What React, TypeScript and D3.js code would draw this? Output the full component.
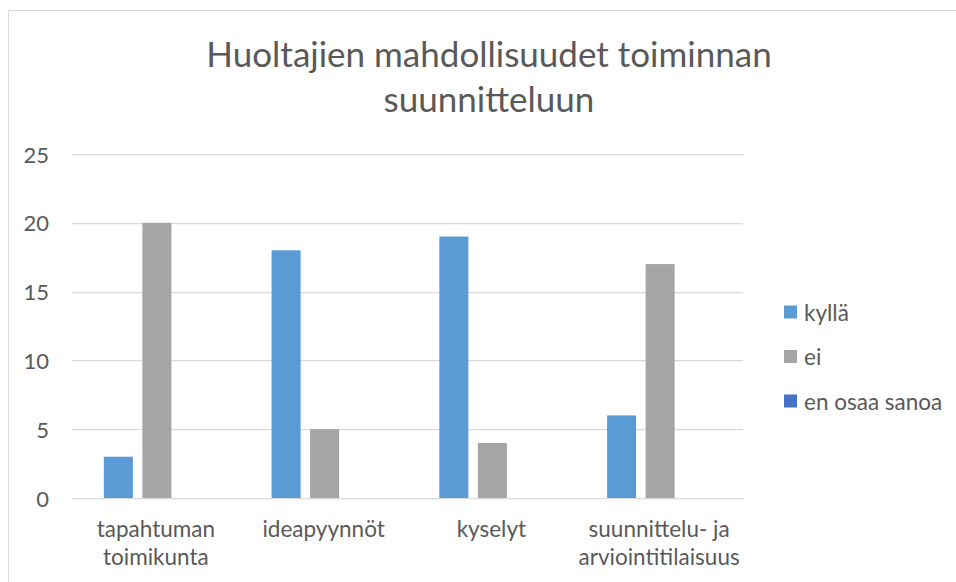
import React, { useEffect, useRef } from "react";
import * as d3 from "d3";

const categories = ["tapahtuman\ntoimikunta", "ideapyynnöt", "kyselyt", "suunnittelu- ja\narviointitilaisuus"];
const seriesNames = ["kyllä", "ei", "en osaa sanoa"];
const kylla = [3, 18, 19, 6];
const ei = [20, 5, 4, 17];
const enOsaa = [0, 0, 0, 0];
const yTicks = [0, 5, 10, 15, 20, 25];
const colors = ["#5B9BD5", "#A5A5A5", "#4472C4"];
const titleLines = ["Huoltajien mahdollisuudet toiminnan", "suunnitteluun"];

const FONT = "Lato, 'Open Sans', sans-serif";
const TEXT = "#595959";

export default function App() {
    const svgRef = useRef(null);

    useEffect(() => {
        document.body.style.margin = "0";
        const width = 956;
        const height = 582;
        const svg = d3.select(svgRef.current);
        svg.selectAll("*").remove();
        svg.attr("width", width).attr("height", height);

        // chart frame
        svg.append("rect")
            .attr("x", 8.5).attr("y", 10.5)
            .attr("width", 960).attr("height", 600)
            .attr("fill", "#fff")
            .attr("stroke", "#d9d9d9");

        const left = 72, right = 743, top = 154, bottom = 498;

        const x = d3.scaleBand().domain(categories).range([left, right]).padding(0);
        const inner = d3.scaleBand().domain(seriesNames).range([0, x.bandwidth()])
            .paddingInner(0.247).paddingOuter(0.8);
        const y = d3.scaleLinear().domain([0, 25]).range([bottom, top]);

        // title
        svg.append("g").selectAll("text").data(titleLines).enter().append("text")
            .attr("x", 489).attr("y", (d, i) => 67 + i * 45)
            .attr("text-anchor", "middle")
            .attr("fill", TEXT)
            .style("font-family", FONT)
            .style("font-size", "35px")
            .text(d => d);

        // gridlines
        svg.append("g").selectAll("line").data(yTicks).enter().append("line")
            .attr("x1", left).attr("x2", right)
            .attr("y1", d => Math.round(y(d)) + 0.5).attr("y2", d => Math.round(y(d)) + 0.5)
            .attr("stroke", "#d9d9d9").attr("stroke-width", 1.25);

        // y labels
        svg.append("g").selectAll("text").data(yTicks).enter().append("text")
            .attr("x", 49).attr("y", d => y(d))
            .attr("text-anchor", "end")
            .attr("dominant-baseline", "central")
            .attr("fill", TEXT)
            .style("font-family", FONT)
            .style("font-size", "22px")
            .text(d => d);

        // bars
        const series = [kylla, ei, enOsaa];
        series.forEach((vals, si) => {
            svg.append("g").selectAll("rect").data(vals).enter().append("rect")
                .attr("x", (d, i) => x(categories[i]) + inner(seriesNames[si]) + 1)
                .attr("y", d => y(d))
                .attr("width", inner.bandwidth())
                .attr("height", d => y(0) - y(d))
                .attr("fill", colors[si]);
        });

        // category labels
        const cat = svg.append("g").selectAll("text").data(categories).enter().append("text")
            .attr("text-anchor", "middle")
            .attr("fill", TEXT)
            .style("font-family", FONT)
            .style("font-size", "22.5px");
        cat.each(function (d) {
            const lines = d.split("\n");
            d3.select(this).selectAll("tspan").data(lines).enter().append("tspan")
                .attr("x", x(d) + x.bandwidth() / 2)
                .attr("y", (l, i) => 537 + i * 28)
                .text(l => l);
        });

        // legend
        const legend = svg.append("g").attr("transform", "translate(784, 0)");
        seriesNames.forEach((name, i) => {
            const cy = 312 + i * 44.5;
            legend.append("rect")
                .attr("x", 0).attr("y", cy - 6.5)
                .attr("width", 13).attr("height", 13)
                .attr("fill", colors[i]);
            legend.append("text")
                .attr("x", 20).attr("y", cy)
                .attr("dominant-baseline", "central")
                .attr("fill", TEXT)
                .style("font-family", FONT)
                .style("font-size", "22.5px")
                .text(name);
        });
    }, []);

    return <svg ref={svgRef} style={{ display: "block" }} />;
}
